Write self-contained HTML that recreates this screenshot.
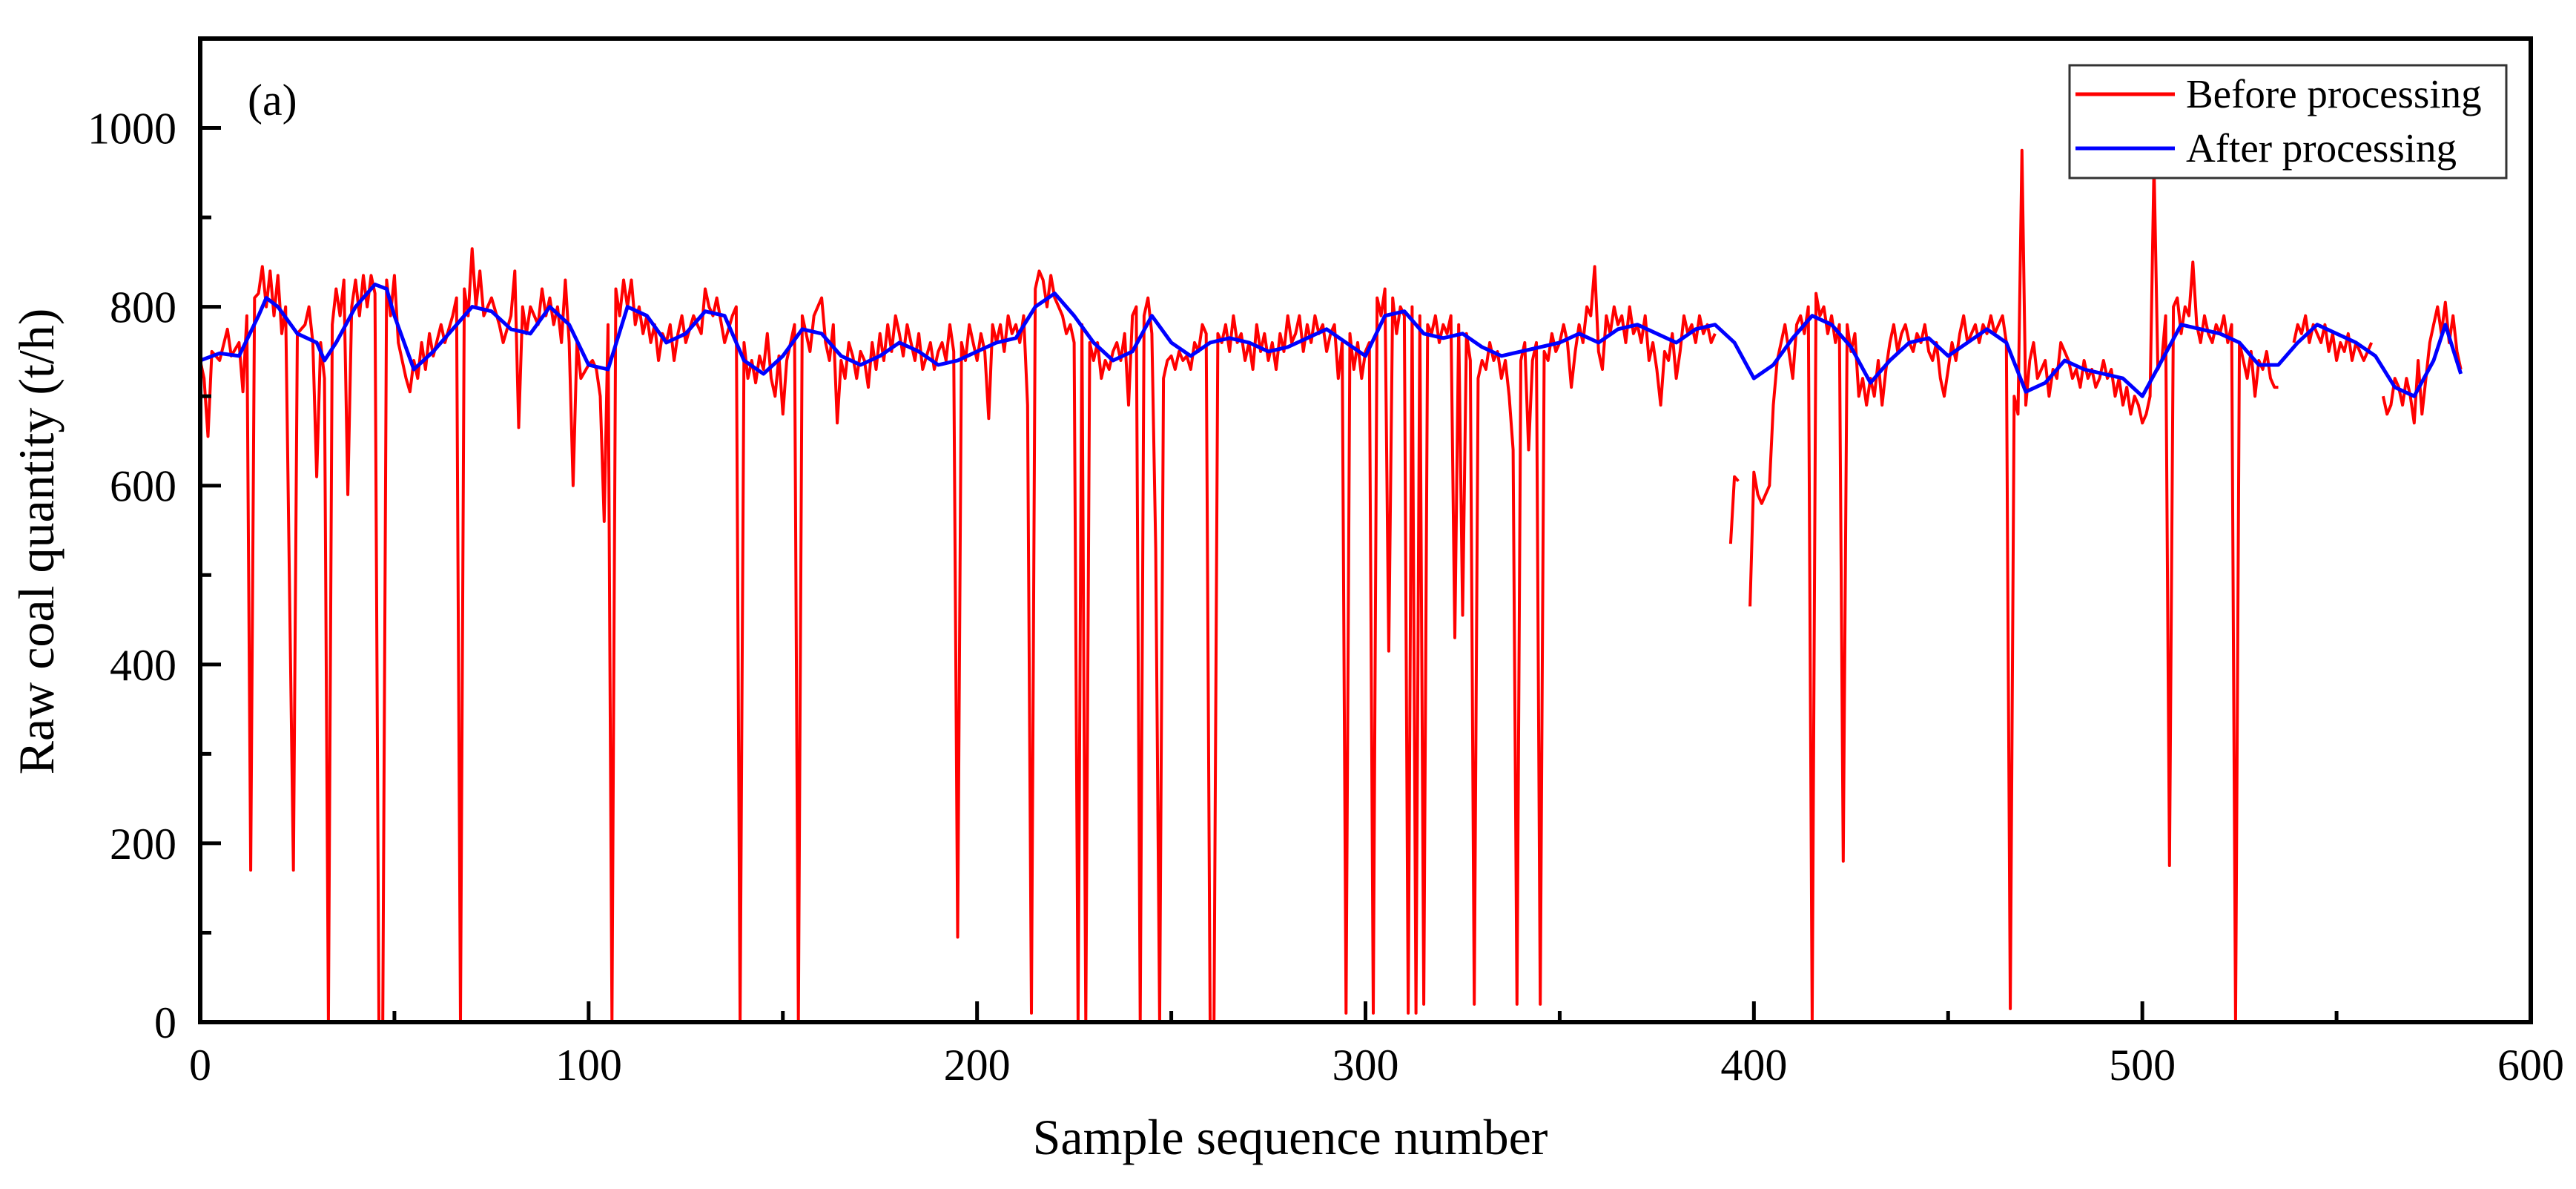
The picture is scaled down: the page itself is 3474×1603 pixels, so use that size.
<!DOCTYPE html>
<html><head><meta charset="utf-8"><style>
html,body{margin:0;padding:0;background:#fff}
svg{display:block;font-family:"Liberation Serif",serif}
</style></head><body>
<svg id="chart" width="3474" height="1603" viewBox="0 0 3474 1603" xmlns="http://www.w3.org/2000/svg">
<rect width="3474" height="1603" fill="#fff"/>
<g id="marks"></g>
<g id="axes"></g>
<text x="334" y="155" font-size="60">(a)</text>
<text x="1740" y="1556" font-size="68" text-anchor="middle">Sample sequence number</text>
<text transform="translate(72,730) rotate(-90)" font-size="68" text-anchor="middle">Raw coal quantity (t/h)</text>
<g>
<rect x="2791" y="88" width="589" height="152" fill="#fff" stroke="#333" stroke-width="3"/>
<line x1="2799" y1="127" x2="2933" y2="127" stroke="#f00" stroke-width="5"/>
<text x="2948" y="145" font-size="55">Before processing</text>
<line x1="2799" y1="200" x2="2933" y2="200" stroke="#00f" stroke-width="5"/>
<text x="2948" y="218" font-size="55">After processing</text>
</g>
</svg>
<script>
const xTicks = [0,100,200,300,400,500,600];
const yTicks = [0,200,400,600,800,1000];
const afterData = [[0,740],[5,748],[10,745],[15,790],[17,810],[20,800],[25,770],[30,760],[32,740],[35,760],[40,800],[45,825],[48,820],[50,790],[55,730],[60,750],[65,775],[70,800],[75,795],[80,775],[85,770],[90,800],[95,780],[100,735],[105,730],[110,800],[115,790],[120,760],[125,770],[130,795],[135,790],[140,740],[145,725],[150,745],[155,775],[160,770],[165,745],[170,735],[175,745],[180,760],[185,750],[190,735],[195,740],[200,750],[205,760],[210,765],[215,800],[220,815],[225,790],[230,760],[235,740],[240,750],[245,790],[250,760],[255,745],[260,760],[265,765],[270,760],[275,750],[280,755],[285,765],[290,775],[295,760],[300,745],[305,790],[310,795],[315,770],[320,765],[325,770],[330,755],[335,745],[340,750],[345,755],[350,760],[355,770],[360,760],[365,775],[370,780],[375,770],[380,760],[385,775],[390,780],[395,760],[400,720],[405,735],[410,765],[415,790],[420,780],[425,755],[430,715],[435,740],[440,760],[445,765],[450,745],[455,760],[460,775],[465,760],[470,705],[475,715],[480,740],[485,730],[490,725],[495,720],[500,700],[505,740],[510,780],[515,775],[520,770],[525,760],[530,735],[535,735],[540,760],[545,780],[550,770],[555,760],[560,745],[565,710],[570,700],[575,740],[578,780],[582,725]];
const beforeData = [[0,740],[1,720],[2,655],[3,750],[5,740],[7,775],[8,745],[10,760],[11,705],[12,790],[13,170],[14,810],[15,815],[16,845],[17,800],[18,840],[19,790],[20,835],[21,770],[22,800],[24,170],[25,770],[27,780],[28,800],[29,760],[30,610],[31,760],[32,720],[33,0],[34,780],[35,820],[36,790],[37,830],[38,590],[39,800],[40,830],[41,790],[42,835],[43,800],[44,835],[45,815],[46,0],[47,0],[48,830],[49,790],[50,835],[51,760],[52,740],[53,720],[54,705],[55,740],[56,720],[57,760],[58,730],[59,770],[60,745],[62,780],[63,760],[65,790],[66,810],[67,0],[68,820],[69,790],[70,865],[71,800],[72,840],[73,790],[75,810],[77,780],[78,760],[80,790],[81,840],[82,665],[83,800],[84,770],[85,800],[87,780],[88,820],[89,790],[90,810],[91,780],[92,800],[93,760],[94,830],[95,760],[96,600],[97,760],[98,720],[100,735],[101,740],[102,730],[103,700],[104,560],[105,780],[106,0],[107,820],[108,790],[109,830],[110,800],[111,830],[112,780],[113,800],[114,770],[115,790],[116,760],[117,780],[118,740],[119,770],[120,760],[121,780],[122,740],[123,770],[124,790],[125,760],[127,790],[129,770],[130,820],[131,800],[132,790],[133,810],[135,760],[137,790],[138,800],[139,0],[140,760],[141,720],[142,740],[143,715],[144,745],[145,730],[146,770],[147,720],[148,700],[149,745],[150,680],[151,740],[152,760],[153,780],[154,0],[155,790],[156,770],[157,750],[158,790],[159,800],[160,810],[161,760],[162,740],[163,780],[164,670],[165,740],[166,720],[167,760],[168,745],[169,720],[170,750],[171,740],[172,710],[173,760],[174,730],[175,770],[176,740],[177,780],[178,750],[179,790],[180,770],[181,745],[182,780],[183,760],[184,740],[185,770],[186,730],[187,745],[188,760],[189,730],[190,750],[191,760],[192,740],[193,780],[194,750],[195,95],[196,760],[197,740],[198,780],[199,760],[200,740],[201,770],[202,750],[203,675],[204,780],[205,760],[206,780],[207,750],[208,790],[209,770],[210,780],[211,760],[212,790],[213,690],[214,10],[215,820],[216,840],[217,830],[218,800],[219,835],[220,810],[221,800],[222,790],[223,770],[224,780],[225,760],[226,0],[227,780],[228,0],[229,760],[230,740],[231,760],[232,720],[233,740],[234,730],[235,750],[236,760],[237,740],[238,770],[239,690],[240,790],[241,800],[242,0],[243,790],[244,810],[245,770],[246,530],[247,0],[248,720],[249,740],[250,745],[251,730],[252,750],[253,740],[254,745],[255,730],[256,760],[257,750],[258,780],[259,770],[260,0],[261,0],[262,770],[263,760],[264,780],[265,750],[266,790],[267,760],[268,770],[269,740],[270,760],[271,730],[272,780],[273,750],[274,770],[275,740],[276,760],[277,730],[278,770],[279,750],[280,790],[281,760],[282,770],[283,790],[284,750],[285,780],[286,760],[287,790],[288,770],[289,780],[290,750],[291,770],[292,780],[293,720],[294,760],[295,10],[296,770],[297,730],[298,760],[299,720],[300,750],[301,760],[302,10],[303,810],[304,790],[305,820],[306,415],[307,810],[308,770],[309,800],[310,790],[311,10],[312,800],[313,10],[314,790],[315,20],[316,780],[317,770],[318,790],[319,760],[320,780],[321,770],[322,790],[323,430],[324,780],[325,455],[326,770],[327,740],[328,20],[329,720],[330,740],[331,730],[332,760],[333,740],[334,750],[335,720],[336,740],[337,700],[338,640],[339,20],[340,740],[341,760],[342,640],[343,740],[344,760],[345,20],[346,750],[347,740],[348,770],[349,750],[350,760],[351,780],[352,760],[353,710],[354,750],[355,780],[356,760],[357,800],[358,790],[359,845],[360,750],[361,730],[362,790],[363,770],[364,800],[365,780],[366,790],[367,760],[368,800],[369,770],[370,780],[371,760],[372,790],[373,740],[374,760],[375,730],[376,690],[377,750],[378,740],[379,770],[380,720],[381,750],[382,790],[383,770],[384,780],[385,760],[386,790],[387,770],[388,780],[389,760],[390,770],[391,null],[394,535],[395,610],[396,605],[397,null],[399,465],[400,615],[401,590],[402,580],[403,590],[404,600],[405,690],[406,740],[407,760],[408,780],[409,750],[410,720],[411,780],[412,790],[413,770],[414,800],[415,0],[416,815],[417,790],[418,800],[419,770],[420,790],[421,760],[422,780],[423,180],[424,780],[425,750],[426,770],[427,700],[428,720],[429,690],[430,720],[431,700],[432,740],[433,690],[434,730],[435,760],[436,780],[437,750],[438,770],[439,780],[440,760],[441,750],[442,770],[443,760],[444,780],[445,750],[446,740],[447,760],[448,720],[449,700],[450,730],[451,760],[452,740],[453,770],[454,790],[455,760],[456,770],[457,780],[458,760],[459,780],[460,770],[461,790],[462,770],[463,780],[464,790],[465,760],[466,15],[467,700],[468,680],[469,975],[470,690],[471,740],[472,760],[473,720],[474,730],[475,740],[476,700],[477,730],[478,720],[479,760],[480,750],[481,740],[482,720],[483,730],[484,710],[485,740],[486,720],[487,730],[488,710],[489,720],[490,740],[491,720],[492,730],[493,700],[494,720],[495,690],[496,710],[497,680],[498,700],[499,690],[500,670],[501,680],[502,700],[503,960],[504,730],[505,740],[506,790],[507,175],[508,800],[509,810],[510,770],[511,800],[512,790],[513,850],[514,780],[515,760],[516,790],[517,770],[518,760],[519,780],[520,770],[521,790],[522,760],[523,780],[524,0],[525,760],[526,740],[527,720],[528,750],[529,700],[530,740],[531,730],[532,750],[533,720],[534,710],[535,710],[536,null],[539,760],[540,780],[541,770],[542,790],[543,760],[544,780],[545,770],[546,760],[547,780],[548,750],[549,770],[550,740],[551,760],[552,750],[553,770],[554,740],[555,760],[556,750],[557,740],[558,750],[559,760],[560,null],[562,700],[563,680],[564,690],[565,720],[566,710],[567,690],[568,720],[569,700],[570,670],[571,740],[572,680],[573,720],[574,760],[575,780],[576,800],[577,770],[578,805],[579,760],[580,790],[581,750],[582,730]];

const L=270,R=3413,T=52,B=1378,XMAX=600,YMAX=1100;
const sx=v=>L+(v/XMAX)*(R-L);
const sy=v=>B-(v/YMAX)*(B-T);
const NS='http://www.w3.org/2000/svg';
const marks=document.getElementById('marks');
const axes=document.getElementById('axes');
function mk(tag,attrs,parent){const e=document.createElementNS(NS,tag);for(const k in attrs)e.setAttribute(k,attrs[k]);parent.appendChild(e);return e;}
function pathFrom(data){let d='',pen=false;for(const [x,y] of data){if(y===null){pen=false;continue;}d+=(pen?'L':'M')+sx(x).toFixed(1)+' '+sy(y).toFixed(1);pen=true;}return d;}

const clip=mk('clipPath',{id:'pc'},marks);mk('rect',{x:L,y:T,width:R-L,height:B-T},clip);
const redPath=mk('path',{d:pathFrom(beforeData),fill:'none',stroke:'#f00','stroke-width':4,'stroke-linejoin':'round','clip-path':'url(#pc)'},marks);


const bluePath=mk('path',{d:pathFrom(afterData),fill:'none',stroke:'#00f','stroke-width':5,'stroke-linejoin':'round','clip-path':'url(#pc)'},marks);



const frame=mk('rect',{x:L,y:T,width:R-L,height:B-T,fill:'none',stroke:'#000','stroke-width':6},axes);


for(let v=0;v<=XMAX;v+=50){const major=v%100===0;
  const t=mk('line',{x1:sx(v),x2:sx(v),y1:B,y2:B-(major?28:15),stroke:'#000','stroke-width':5},axes);
  
  }
for(const v of xTicks){const t=mk('text',{x:sx(v),y:1456,'font-size':60,'text-anchor':'middle'},axes);t.textContent=v;
  
  }
for(let v=0;v<=YMAX;v+=100){const major=v%200===0;
  const t=mk('line',{x1:L,x2:L+(major?28:15),y1:sy(v),y2:sy(v),stroke:'#000','stroke-width':5},axes);
  
  }
for(const v of yTicks){const t=mk('text',{x:238,y:sy(v)+21,'font-size':60,'text-anchor':'end'},axes);t.textContent=v;
  
  }
</script>
</body></html>
